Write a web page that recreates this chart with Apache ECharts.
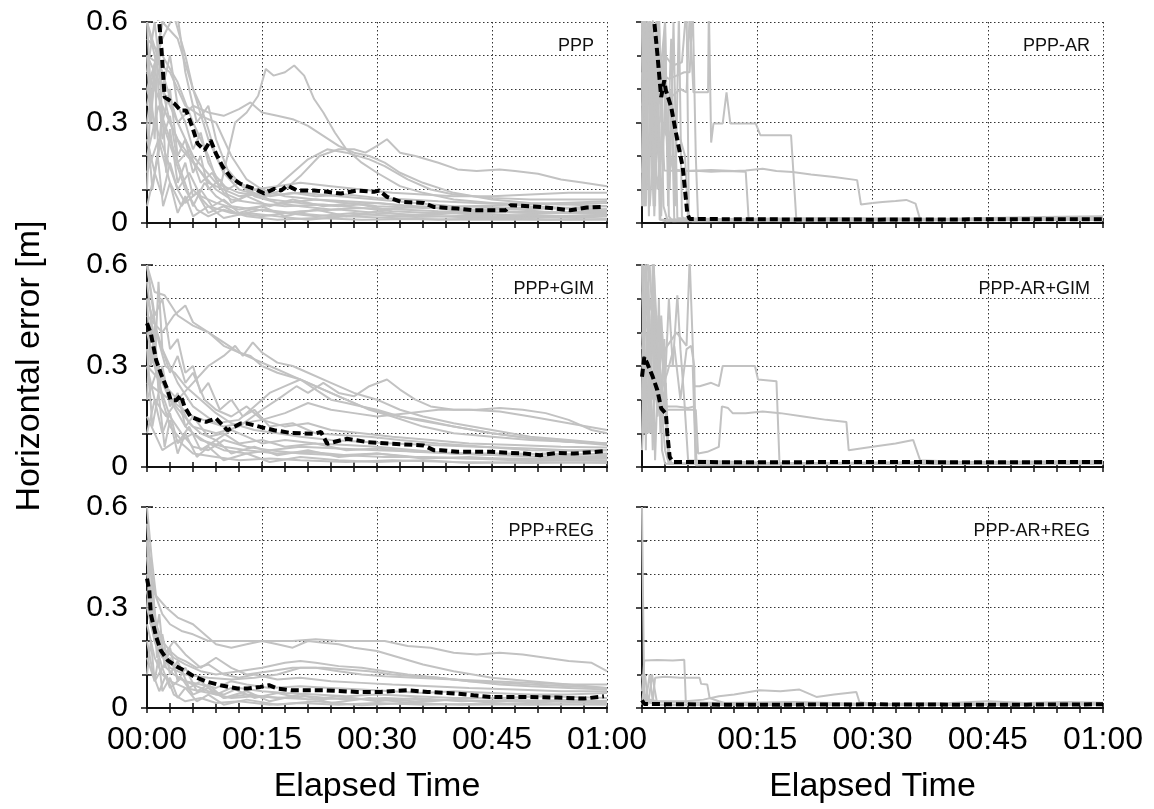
<!DOCTYPE html>
<html>
<head>
<meta charset="utf-8">
<script src="https://cdn.jsdelivr.net/npm/echarts@6/dist/echarts.min.js"></script>
<style>
html,body{margin:0;padding:0;background:#fff;}
#chart{width:1154px;height:809px;}
</style>
</head>
<body>
<div id="chart"></div>
<script>
// ---------- DATA (time in minutes, error in metres) ----------
const panelNames = ['PPP', 'PPP-AR', 'PPP+GIM', 'PPP-AR+GIM', 'PPP+REG', 'PPP-AR+REG'];
const xTickMinutes = [0, 15, 30, 45, 60];
const yTickLabels = ['0', '0.3', '0.6'];

const pppMedian = [[0,0.95],[1.0,0.75],[1.6,0.6],[1.9,0.515],[2.3,0.376],[3.6,0.356],[4.4,0.336],[5.1,0.336],[5.9,0.287],[6.6,0.237],[7.5,0.217],[8.3,0.247],[9.0,0.207],[9.9,0.167],[10.9,0.137],[12.2,0.117],[14.0,0.102],[15.3,0.088],[16.6,0.102],[17.5,0.097],[18.3,0.112],[19.6,0.097],[21.8,0.097],[23.5,0.093],[25.3,0.088],[27.4,0.097],[29.6,0.093],[30.3,0.097],[31.3,0.078],[33.1,0.063],[36.1,0.06],[37.4,0.048],[40.5,0.043],[42.6,0.038],[44.8,0.038],[46.8,0.038],[47.4,0.053],[51.3,0.048],[55.2,0.038],[57.4,0.046],[59.6,0.048]];
const pppGrey = [
 [[0,0.55],[2,0.5],[4,0.42],[6,0.3],[8,0.2],[9.5,0.1],[10.5,0.2],[11.5,0.3],[13,0.33],[14.5,0.38],[15.5,0.46],[16.5,0.44],[18,0.45],[19.2,0.47],[20.5,0.44],[21.8,0.37],[23,0.33],[24.5,0.27],[26,0.22],[28,0.18],[30,0.15],[33,0.11],[36,0.09],[40,0.07],[45,0.06],[50,0.05],[55,0.045],[60,0.04]],
 [[0,0.6],[2,0.45],[4,0.3],[6,0.35],[8,0.33],[10,0.32],[12,0.34],[13.5,0.36],[15,0.33],[17,0.32],[19,0.31],[21,0.29],[23,0.26],[25,0.23],[27,0.21],[29,0.2],[31,0.18],[33,0.15],[36,0.12],[40,0.09],[45,0.07],[50,0.06],[55,0.055],[60,0.05]],
 [[0,0.5],[3,0.35],[6,0.2],[9,0.12],[12,0.09],[15,0.08],[18,0.1],[20,0.14],[22.5,0.2],[25,0.22],[27,0.22],[28.5,0.21],[30,0.23],[31.3,0.25],[33,0.21],[35,0.2],[38,0.18],[40.5,0.16],[43,0.155],[46,0.16],[48,0.155],[51,0.147],[54,0.13],[57,0.12],[60,0.11]],
 [[0,0.45],[4,0.25],[8,0.12],[12,0.08],[16,0.09],[19,0.15],[21,0.19],[23.5,0.22],[26,0.21],[29,0.19],[31,0.17],[34,0.13],[37,0.1],[40,0.085],[45,0.075],[50,0.07],[55,0.07],[60,0.07]],
 [[0,0.3],[2,0.6],[4,0.55],[6,0.4],[8,0.25],[10,0.15],[13,0.1],[16,0.07],[20,0.06],[25,0.05],[30,0.06],[35,0.05],[40,0.04],[45,0.035],[50,0.03],[55,0.03],[60,0.03]],
 [[0,0.2],[1.5,0.35],[3,0.25],[4.5,0.15],[6,0.05],[7.5,0.12],[9,0.08],[11,0.05],[14,0.04],[18,0.03],[22,0.02],[27,0.03],[32,0.02],[38,0.02],[44,0.015],[50,0.02],[56,0.015],[60,0.02]],
 [[0,0.4],[1,0.3],[2.5,0.2],[4,0.1],[5.5,0.15],[7,0.08],[9,0.06],[12,0.04],[15,0.05],[18,0.06],[22,0.07],[26,0.065],[30,0.06],[34,0.05],[38,0.045],[42,0.04],[48,0.04],[54,0.045],[60,0.05]],
 [[0,0.25],[1,0.15],[2,0.3],[3.5,0.2],[5,0.1],[6.5,0.04],[8,0.02],[10,0.04],[13,0.02],[17,0.01],[22,0.015],[28,0.01],[35,0.012],[42,0.01],[50,0.01],[60,0.01]],
 [[0,0.35],[2,0.6],[3.5,0.7],[5,0.45],[6.5,0.3],[8,0.35],[9,0.25],[10.5,0.16],[12,0.12],[14,0.1],[17,0.11],[20,0.12],[24,0.11],[28,0.1],[32,0.09],[36,0.085],[40,0.08],[45,0.08],[50,0.085],[55,0.09],[60,0.09]],
 [[0,0.15],[1.5,0.25],[3,0.12],[4.5,0.05],[6,0.1],[8,0.05],[11,0.03],[15,0.02],[20,0.035],[25,0.04],[30,0.03],[35,0.025],[40,0.03],[46,0.025],[52,0.02],[60,0.025]],
 [[0,0.5],[3,0.45],[5,0.35],[7,0.32],[9,0.3],[11,0.2],[13,0.13],[15,0.1],[18,0.08],[22,0.07],[26,0.06],[30,0.05],[36,0.045],[42,0.05],[48,0.055],[54,0.06],[60,0.065]],
 [[0,0.6],[1,0.5],[2,0.4],[3,0.3],[4.5,0.22],[6,0.18],[7.5,0.14],[9,0.1],[11,0.07],[14,0.06],[18,0.05],[23,0.055],[28,0.045],[33,0.04],[38,0.035],[44,0.03],[50,0.035],[56,0.03],[60,0.03]],
 [[0,0.4],[2,0.55],[3.5,0.62],[5,0.5],[6,0.4],[7,0.35],[8,0.28],[9,0.2],[10,0.15],[12,0.1],[15,0.08],[20,0.09],[25,0.08],[30,0.07],[35,0.06],[40,0.05],[50,0.045],[60,0.04]],
 [[0,0.5],[0.5,0.3],[1,0.45],[1.5,0.2],[2,0.35],[2.5,0.15],[3,0.28],[4,0.12],[5,0.18],[6,0.08],[7,0.1],[8.5,0.05],[10,0.07],[12,0.03],[15,0.05],[18,0.02],[22,0.04],[26,0.02],[30,0.035],[35,0.02],[40,0.03],[45,0.02],[50,0.025],[55,0.02],[60,0.025]],
 [[0,0.1],[0.5,0.4],[1,0.25],[1.5,0.55],[2,0.3],[3,0.4],[4,0.2],[5,0.25],[6,0.15],[7,0.2],[8,0.1],[9.5,0.13],[11,0.06],[13,0.08],[16,0.05],[19,0.07],[23,0.05],[27,0.06],[31,0.04],[36,0.05],[41,0.035],[47,0.045],[53,0.03],[60,0.04]],
 [[0,0.3],[0.7,0.1],[1.4,0.2],[2.1,0.05],[3,0.12],[4,0.03],[5,0.08],[6,0.02],[8,0.05],[10,0.015],[13,0.03],[17,0.02],[21,0.01],[26,0.02],[32,0.015],[38,0.01],[45,0.015],[52,0.01],[60,0.012]],
 [[0,0.6],[0.6,0.35],[1.2,0.5],[2,0.25],[3,0.32],[4,0.18],[5.5,0.22],[7,0.12],[8.5,0.15],[10,0.09],[12,0.07],[14,0.1],[16,0.08],[19,0.09],[22,0.08],[26,0.085],[30,0.075],[34,0.07],[38,0.065],[43,0.06],[48,0.058],[54,0.055],[60,0.06]],
 [[0,0.45],[1,0.6],[2,0.4],[3,0.5],[4,0.35],[5,0.3],[6,0.22],[7,0.27],[8,0.18],[9,0.14],[10.5,0.1],[12,0.12],[14,0.08],[17,0.06],[20,0.05],[24,0.04],[28,0.045],[32,0.035],[37,0.03],[43,0.035],[50,0.03],[60,0.035]],
 [[0,0.05],[1,0.15],[2,0.08],[3,0.18],[4,0.1],[5,0.06],[6.5,0.09],[8,0.03],[10,0.05],[12,0.025],[15,0.04],[19,0.03],[24,0.02],[29,0.025],[35,0.018],[42,0.022],[50,0.015],[60,0.02]]
];

const arMedian = [[0,0.95],[1.0,0.8],[1.6,0.6],[2.0,0.505],[2.26,0.436],[2.5,0.376],[2.9,0.426],[3.1,0.396],[3.8,0.346],[4.6,0.247],[5.3,0.167],[5.9,0.028],[6.2,0.012],[15,0.011],[30,0.01],[45,0.011],[60,0.011]];
const arGrey = [
 [[0,0.2],[0.4,0.65],[0.8,0.1],[1.2,0.55],[1.6,0.02],[2,0.3],[2.4,0.01],[3,0.005],[10,0.008],[20,0.01],[30,0.008],[40,0.01],[50,0.012],[60,0.01]],
 [[0,0.5],[0.5,0.05],[1,0.6],[1.5,0.2],[2.2,0.65],[2.8,0.05],[3.3,0.01],[15,0.01],[30,0.012],[45,0.01],[60,0.015]],
 [[0,0.1],[0.6,0.4],[1.1,0.6],[1.7,0.15],[2.3,0.45],[2.9,0.44],[3.5,0.43],[4.5,0.44],[5.5,0.45],[6.2,0.45],[6.6,0.65],[7,0.2],[7.3,0.01],[20,0.012],[40,0.01],[60,0.012]],
 [[0,0.6],[0.5,0.3],[1,0.62],[2,0.35],[3,0.4],[4,0.38],[5,0.4],[5.8,0.39],[6.2,0.62],[6.7,0.39],[8.6,0.39],[8.7,0.65],[9.0,0.24],[9.3,0.297],[10.5,0.297],[11,0.39],[11.5,0.297],[14.8,0.297],[15.4,0.262],[19.4,0.262],[20.1,0.005],[30,0.008],[45,0.01],[60,0.01]],
 [[0,0.3],[0.8,0.6],[1.5,0.05],[2.2,0.5],[2.9,0.157],[5,0.155],[7,0.156],[9,0.153],[11,0.155],[13.5,0.153],[13.9,0.005],[25,0.01],[40,0.008],[60,0.01]],
 [[0,0.4],[1,0.55],[2,0.1],[3,0.3],[4,0.16],[6,0.155],[9,0.158],[12,0.155],[13.5,0.157],[15.7,0.162],[17.5,0.155],[19.6,0.152],[22,0.145],[25,0.137],[28,0.128],[28.5,0.055],[30,0.06],[31.3,0.063],[33,0.066],[34.4,0.069],[35.6,0.058],[36.2,0.01],[45,0.012],[60,0.015]],
 [[0,0.6],[0.3,0.2],[0.7,0.55],[1.2,0.3],[1.8,0.6],[2.3,0.1],[2.8,0.5],[3.3,0.2],[3.8,0.55],[4.3,0.05],[4.8,0.62],[5.2,0.02],[5.5,0.01],[20,0.01],[40,0.012],[60,0.01]],
 [[0,0.35],[1,0.45],[2,0.42],[3,0.5],[4,0.47],[5.2,0.48],[5.8,0.65],[6.1,0.02],[6.5,0.005],[30,0.01],[60,0.01]],
 [[0,0.15],[0.5,0.35],[1,0.05],[1.6,0.25],[2.2,0.6],[2.6,0.3],[3.2,0.26],[4,0.28],[5,0.25],[5.6,0.2],[6,0.01],[30,0.008],[60,0.01]],
 [[0,0.45],[0.3,0.05],[0.9,0.5],[1.4,0.1],[1.9,0.62],[2.5,0.02],[3,0.4],[3.6,0.1],[4.1,0.6],[4.6,0.015],[10,0.012],[25,0.015],[40,0.013],[52,0.018],[60,0.02]],
 [[0,0.05],[0.2,0.62],[0.5,0.1],[0.8,0.6],[1.1,0.2],[1.4,0.62],[1.7,0.05],[2.0,0.55],[2.3,0.01],[10,0.012],[30,0.01],[60,0.012]],
 [[0,0.62],[0.3,0.05],[0.6,0.5],[0.9,0.02],[1.2,0.45],[1.6,0.1],[2.0,0.62],[2.5,0.3],[3,0.6],[3.4,0.05],[3.8,0.4],[4.2,0.01],[20,0.01],[60,0.013]],
 [[0,0.3],[0.2,0.6],[0.4,0.4],[0.7,0.62],[1,0.35],[1.3,0.58],[1.8,0.25],[2.4,0.45],[3.0,0.6],[3.5,0.02],[4,0.005],[60,0.01]]
];

const gimMedian = [[0,0.427],[0.5,0.397],[1.2,0.317],[1.8,0.278],[2.7,0.228],[3.1,0.198],[3.8,0.198],[4.4,0.213],[4.9,0.179],[5.7,0.149],[6.8,0.139],[7.7,0.134],[9.0,0.144],[10.5,0.109],[12.2,0.129],[13.1,0.129],[14.8,0.119],[16.6,0.109],[18.8,0.101],[21.8,0.099],[22.7,0.104],[23.5,0.069],[26.1,0.084],[28.7,0.074],[31.8,0.069],[36.1,0.064],[37.4,0.05],[38.3,0.05],[40.5,0.045],[44.8,0.045],[49.2,0.04],[51.3,0.035],[53.5,0.042],[55.7,0.04],[59.6,0.047]];
const gimGrey = [
 [[0,0.6],[1,0.52],[2.3,0.51],[4,0.45],[6,0.42],[8,0.4],[10,0.36],[13,0.33],[16,0.3],[19,0.27],[22,0.24],[25,0.21],[28,0.18],[31,0.16],[35,0.14],[40,0.12],[45,0.1],[50,0.085],[55,0.075],[60,0.07]],
 [[0,0.45],[2,0.4],[3.5,0.45],[5,0.48],[6,0.43],[8,0.4],[10,0.37],[12,0.34],[13.5,0.33],[15,0.3],[17,0.28],[20,0.26],[23,0.23],[26,0.2],[29,0.17],[32,0.15],[36,0.12],[40,0.1],[45,0.09],[50,0.08],[55,0.075],[60,0.065]],
 [[0,0.3],[2,0.25],[4,0.2],[6,0.25],[8,0.3],[10,0.33],[11.5,0.36],[12.5,0.33],[13.8,0.37],[15,0.34],[17,0.31],[19,0.3],[21,0.28],[24,0.25],[27,0.22],[30,0.2],[33,0.17],[36,0.15],[40,0.13],[45,0.11],[50,0.09],[55,0.08],[60,0.07]],
 [[0,0.35],[3,0.2],[6,0.12],[9,0.1],[12,0.12],[15,0.17],[17,0.2],[19.5,0.24],[21,0.22],[23,0.25],[25,0.22],[27,0.21],[29,0.24],[31.3,0.26],[33,0.23],[35,0.2],[37,0.18],[40,0.17],[43,0.17],[46,0.175],[49,0.17],[52,0.16],[55,0.14],[58,0.11],[60,0.1]],
 [[0,0.5],[2,0.35],[4,0.25],[6,0.18],[9,0.13],[12,0.14],[14,0.18],[16,0.22],[18,0.24],[20,0.26],[22,0.23],[24,0.2],[26,0.19],[28,0.18],[30,0.17],[33,0.15],[36,0.14],[40,0.12],[45,0.1],[50,0.085],[55,0.075],[60,0.07]],
 [[0,0.25],[3,0.2],[6,0.15],[10,0.12],[15,0.14],[18,0.16],[21,0.19],[24,0.17],[27,0.16],[30,0.15],[34,0.16],[38,0.17],[42,0.17],[46,0.165],[50,0.15],[55,0.13],[60,0.11]],
 [[0,0.2],[1.5,0.3],[3,0.2],[5,0.12],[7,0.08],[10,0.06],[13,0.05],[17,0.04],[21,0.045],[26,0.035],[31,0.03],[36,0.03],[42,0.025],[48,0.02],[54,0.02],[60,0.02]],
 [[0,0.4],[1.5,0.25],[3,0.15],[4.5,0.1],[6,0.06],[8,0.05],[10,0.08],[13,0.06],[16,0.05],[20,0.06],[25,0.055],[30,0.05],[36,0.045],[42,0.04],[48,0.04],[54,0.035],[60,0.04]],
 [[0,0.15],[1,0.1],[2,0.05],[4,0.08],[6,0.04],[9,0.03],[12,0.02],[16,0.025],[20,0.02],[26,0.015],[32,0.02],[40,0.015],[50,0.012],[60,0.015]],
 [[0,0.6],[1.2,0.4],[2.4,0.3],[3.6,0.28],[5,0.24],[7,0.2],[9,0.16],[11,0.13],[14,0.11],[17,0.1],[20,0.09],[24,0.08],[28,0.075],[32,0.07],[37,0.065],[43,0.06],[50,0.055],[55,0.05],[60,0.05]],
 [[0,0.3],[1,0.2],[2.5,0.15],[4,0.2],[5.5,0.13],[7,0.1],[9,0.08],[11,0.11],[13,0.09],[15,0.07],[18,0.08],[22,0.07],[26,0.065],[30,0.06],[35,0.05],[40,0.04],[46,0.035],[52,0.03],[60,0.03]],
 [[0,0.55],[1,0.35],[2,0.2],[3,0.12],[4.5,0.08],[6,0.1],[8,0.07],[10,0.05],[13,0.04],[16,0.05],[20,0.04],[25,0.035],[30,0.04],[35,0.03],[42,0.025],[50,0.025],[60,0.028]],
 [[0,0.5],[0.5,0.3],[1,0.42],[1.5,0.22],[2,0.3],[3,0.18],[4,0.22],[5,0.12],[6,0.15],[8,0.09],[10,0.1],[12,0.07],[15,0.08],[18,0.06],[22,0.07],[26,0.05],[30,0.055],[35,0.045],[40,0.04],[46,0.035],[52,0.04],[60,0.035]],
 [[0,0.2],[0.5,0.45],[1,0.3],[1.5,0.55],[2,0.35],[3,0.28],[4,0.33],[5,0.25],[6,0.28],[7.5,0.2],[9,0.17],[11,0.15],[13,0.18],[15,0.14],[18,0.12],[21,0.13],[24,0.11],[28,0.1],[32,0.09],[37,0.08],[42,0.07],[48,0.065],[54,0.06],[60,0.058]],
 [[0,0.35],[0.7,0.12],[1.5,0.22],[2.3,0.06],[3,0.14],[4,0.04],[5,0.1],[6.5,0.03],[8,0.06],[10,0.02],[13,0.04],[16,0.015],[20,0.03],[25,0.02],[30,0.015],[36,0.02],[42,0.012],[50,0.015],[60,0.012]],
 [[0,0.6],[1,0.45],[2,0.5],[3,0.35],[4,0.38],[5,0.28],[6,0.3],[7,0.22],[8,0.25],[9.5,0.17],[11,0.2],[12.5,0.15],[14,0.17],[16,0.12],[19,0.13],[22,0.1],[25,0.095],[29,0.09],[33,0.08],[38,0.07],[44,0.06],[50,0.05],[56,0.048],[60,0.05]],
 [[0,0.1],[1,0.2],[2,0.1],[3,0.16],[4,0.07],[5.5,0.12],[7,0.05],[9,0.08],[11,0.04],[14,0.06],[17,0.035],[21,0.05],[25,0.03],[30,0.04],[36,0.025],[42,0.03],[50,0.02],[60,0.025]]
];

const arGimMedian = [[0,0.268],[0.3,0.327],[0.7,0.307],[1.4,0.268],[2.0,0.228],[2.5,0.174],[3.1,0.159],[3.3,0.099],[3.6,0.03],[4.0,0.015],[15,0.014],[30,0.015],[45,0.014],[60,0.015]];
const arGimGrey = [
 [[0,0.1],[0.5,0.6],[1,0.3],[1.5,0.5],[2,0.2],[2.5,0.45],[3,0.25],[3.5,0.5],[4,0.3],[4.6,0.51],[5,0.35],[5.5,0.2],[6,0.02],[20,0.01],[40,0.012],[60,0.01]],
 [[0,0.5],[0.7,0.65],[1.3,0.2],[2,0.4],[2.8,0.3],[4,0.3],[5.5,0.3],[6.6,0.3],[7,0.005],[30,0.01],[60,0.012]],
 [[0,0.3],[1,0.6],[2,0.15],[3,0.35],[4.5,0.4],[5.8,0.36],[6.2,0.62],[6.8,0.24],[7.5,0.24],[9,0.25],[10,0.24],[10.5,0.3],[14.7,0.3],[15.1,0.26],[17.5,0.255],[17.9,0.01],[30,0.012],[60,0.01]],
 [[0,0.2],[0.6,0.55],[1.2,0.1],[2,0.3],[3,0.17],[4.5,0.17],[6,0.17],[7,0.17],[7.3,0.04],[8.5,0.045],[10,0.06],[10.4,0.18],[11.2,0.175],[11.8,0.16],[13.5,0.16],[15.7,0.165],[18,0.16],[21,0.15],[24,0.14],[26.6,0.134],[26.9,0.05],[30,0.06],[33,0.07],[35.3,0.08],[36.2,0.02],[45,0.012],[60,0.015]],
 [[0,0.4],[0.8,0.1],[1.5,0.6],[2.2,0.3],[3,0.18],[4.5,0.18],[6,0.175],[6.8,0.18],[7.1,0.01],[30,0.01],[60,0.012]],
 [[0,0.6],[0.4,0.2],[0.9,0.5],[1.4,0.05],[1.9,0.45],[2.4,0.1],[2.9,0.38],[3.4,0.02],[4,0.01],[25,0.012],[60,0.01]],
 [[0,0.05],[0.5,0.3],[1,0.1],[1.5,0.65],[2,0.15],[2.6,0.4],[3.2,0.1],[3.8,0.01],[30,0.01],[60,0.01]],
 [[0,0.45],[0.5,0.45],[1,0.48],[1.5,0.45],[2,0.3],[2.5,0.2],[3,0.05],[3.5,0.01],[60,0.01]],
 [[0,0.35],[1.2,0.5],[2.1,0.2],[3.3,0.28],[4.2,0.36],[5,0.2],[5.8,0.35],[6.4,0.36],[6.8,0.3],[7.0,0.01],[40,0.015],[60,0.018]],
 [[0,0.2],[0.2,0.6],[0.5,0.05],[0.8,0.55],[1.1,0.1],[1.4,0.62],[1.8,0.2],[2.2,0.5],[2.6,0.05],[3,0.01],[30,0.012],[60,0.01]],
 [[0,0.62],[0.3,0.1],[0.6,0.4],[1,0.15],[1.3,0.5],[1.7,0.02],[2.2,0.35],[2.6,0.12],[3.1,0.25],[3.5,0.01],[60,0.012]]
];

const regMedian = [[0,0.386],[0.3,0.351],[0.5,0.28],[1.2,0.212],[1.8,0.172],[2.7,0.142],[4.0,0.122],[4.9,0.112],[6.2,0.093],[7.9,0.078],[9.6,0.068],[11.8,0.058],[13.1,0.058],[14.8,0.063],[15.9,0.068],[17.0,0.058],[18.8,0.053],[23.1,0.053],[27.4,0.048],[30.5,0.048],[34.0,0.053],[36.6,0.048],[40.5,0.043],[42.6,0.038],[44.8,0.033],[49.2,0.033],[53.5,0.031],[57,0.028],[59.6,0.035]];
const regGrey = [
 [[0,0.6],[0.6,0.45],[1.2,0.33],[2,0.28],[3,0.25],[4.5,0.23],[6,0.22],[8,0.2],[10,0.2],[13,0.2],[16,0.2],[19,0.2],[22,0.205],[25,0.2],[28,0.2],[31,0.2],[34,0.185],[37,0.18],[40,0.165],[43,0.16],[46,0.165],[49,0.16],[52,0.15],[55,0.14],[58,0.135],[60,0.11]],
 [[0,0.5],[1,0.34],[2.5,0.3],[4,0.27],[6,0.25],[7.5,0.22],[9,0.19],[11,0.18],[13,0.19],[15,0.2],[17,0.19],[19,0.18],[21,0.2],[23,0.195],[25,0.19],[27,0.18],[30,0.17],[33,0.15],[36,0.13],[40,0.11],[45,0.09],[50,0.08],[55,0.07],[60,0.06]],
 [[0,0.4],[1,0.25],[2,0.18],[3.5,0.15],[5,0.13],[7,0.11],[9,0.1],[12,0.11],[15,0.12],[18,0.135],[20,0.14],[22,0.135],[25,0.125],[28,0.12],[31,0.11],[34,0.1],[38,0.09],[42,0.08],[46,0.07],[50,0.065],[55,0.06],[60,0.055]],
 [[0,0.3],[1,0.2],[2,0.15],[3.5,0.2],[5,0.16],[7,0.12],[9,0.15],[11,0.12],[13,0.1],[16,0.11],[19,0.12],[22,0.12],[25,0.11],[28,0.1],[31,0.095],[35,0.09],[40,0.085],[45,0.08],[50,0.075],[55,0.07],[60,0.07]],
 [[0,0.25],[1,0.15],[2,0.1],[3,0.08],[5,0.06],[7,0.05],[9,0.04],[11,0.03],[14,0.035],[18,0.03],[22,0.025],[26,0.03],[30,0.025],[35,0.02],[40,0.025],[45,0.02],[50,0.02],[55,0.025],[60,0.02]],
 [[0,0.35],[1,0.2],[2,0.12],[3,0.15],[4,0.09],[6,0.07],[8,0.05],[10,0.04],[12,0.06],[15,0.05],[18,0.045],[22,0.04],[26,0.035],[30,0.04],[35,0.035],[40,0.03],[46,0.03],[52,0.035],[60,0.03]],
 [[0,0.2],[0.8,0.1],[1.6,0.05],[2.5,0.1],[3.5,0.04],[5,0.02],[7,0.03],[9,0.015],[12,0.02],[16,0.01],[20,0.015],[25,0.01],[30,0.015],[36,0.01],[42,0.012],[50,0.01],[60,0.012]],
 [[0,0.45],[0.7,0.3],[1.5,0.2],[2.5,0.12],[3.5,0.1],[5,0.08],[7,0.07],[9,0.06],[11,0.08],[13,0.07],[16,0.06],[20,0.065],[24,0.06],[28,0.055],[32,0.05],[36,0.045],[40,0.05],[45,0.045],[50,0.04],[55,0.04],[60,0.045]],
 [[0,0.15],[1,0.08],[2,0.12],[3,0.06],[4.5,0.09],[6,0.04],[8,0.06],[10,0.03],[13,0.04],[17,0.03],[21,0.035],[26,0.025],[31,0.03],[37,0.025],[44,0.02],[52,0.02],[60,0.022]],
 [[0,0.35],[1.5,0.2],[3,0.12],[5,0.1],[8,0.09],[11,0.085],[14,0.09],[17,0.1],[20,0.12],[23,0.12],[26,0.115],[29,0.11],[32,0.1],[35,0.095],[38,0.09],[42,0.08],[46,0.075],[50,0.07],[55,0.065],[60,0.06]],
 [[0,0.5],[0.4,0.25],[0.8,0.35],[1.3,0.15],[2,0.22],[3,0.1],[4,0.14],[5.5,0.06],[7,0.08],[9,0.04],[11,0.06],[14,0.03],[17,0.045],[21,0.025],[25,0.035],[30,0.02],[35,0.03],[41,0.02],[48,0.025],[55,0.018],[60,0.02]],
 [[0,0.3],[0.5,0.45],[1,0.2],[1.6,0.28],[2.3,0.12],[3,0.18],[4,0.08],[5,0.12],[6.5,0.05],[8,0.07],[10,0.03],[13,0.05],[16,0.02],[20,0.04],[24,0.015],[29,0.03],[34,0.015],[40,0.025],[47,0.012],[54,0.02],[60,0.015]],
 [[0,0.55],[0.6,0.38],[1.2,0.25],[2,0.2],[3,0.17],[4,0.15],[5,0.14],[6.5,0.12],[8,0.13],[10,0.1],[12,0.09],[14,0.1],[17,0.085],[20,0.09],[24,0.08],[28,0.075],[32,0.07],[37,0.065],[42,0.06],[48,0.055],[54,0.05],[60,0.05]],
 [[0,0.1],[0.5,0.2],[1,0.08],[1.5,0.15],[2,0.05],[3,0.09],[4,0.03],[5,0.06],[6.5,0.02],[8,0.04],[10,0.01],[13,0.025],[17,0.01],[22,0.02],[28,0.008],[34,0.015],[41,0.01],[50,0.012],[60,0.01]]
];

const arRegMedian = [[0,0.023],[0.3,0.012],[10,0.01],[20,0.01],[30,0.011],[40,0.01],[50,0.01],[60,0.011]];
const arRegGrey = [
 [[0,0.6],[0.15,0.3],[0.3,0.02],[2,0.01],[20,0.012],[40,0.01],[60,0.012]],
 [[0,0.05],[0.3,0.142],[2,0.143],[4,0.142],[5.5,0.144],[5.7,0.02],[7,0.01],[30,0.01],[60,0.012]],
 [[0,0.1],[0.5,0.02],[1.0,0.1],[1.4,0.02],[1.7,0.09],[3,0.093],[5,0.09],[7.5,0.09],[7.7,0.072],[8.5,0.07],[8.8,0.03],[10,0.02],[11.5,0.01],[60,0.012]],
 [[0,0.03],[2,0.02],[5.7,0.02],[8,0.025],[10,0.035],[12,0.04],[15.3,0.053],[18,0.05],[20.5,0.055],[22.7,0.033],[25,0.04],[27.9,0.048],[28.3,0.018],[30,0.012],[40,0.01],[50,0.014],[60,0.015]],
 [[0,0.01],[0.4,0.1],[0.8,0.01],[1.3,0.1],[2,0.01],[60,0.01]],
 [[0,0.02],[10,0.015],[20,0.018],[30,0.012],[40,0.015],[45,0.02],[50,0.015],[55,0.018],[60,0.016]]
];

const panelGrey = [pppGrey, arGrey, gimGrey, arGimGrey, regGrey, arRegGrey];
const panelMedian = [pppMedian, arMedian, gimMedian, arGimMedian, regMedian, arRegMedian];

// ---------- LAYOUT ----------
const colLeft = [147, 642];
const colWidth = [460, 461];
const rowTop = [22, 265, 507];
const rowHeight = [201, 202, 201];

const FONT = "'Liberation Sans', Arial, Helvetica, sans-serif";
const dotted = {color: '#333', width: 1, type: [1.5, 2.5]};
const frame = {show: true, lineStyle: {color: '#111', width: 2}};

function fmtTime(m) {
  const h = Math.floor(m / 60), mm = Math.round(m % 60);
  return String(h).padStart(2, '0') + ':' + String(mm).padStart(2, '0');
}

const grids = [], xAxes = [], yAxes = [], series = [], titles = [];
for (let p = 0; p < 6; p++) {
  const r = Math.floor(p / 2), c = p % 2;
  grids.push({left: colLeft[c], top: rowTop[r], width: colWidth[c], height: rowHeight[r], containLabel: false});
  const bottomRow = r === 2;
  xAxes.push({
    gridIndex: p, type: 'value', position: 'bottom', min: 0, max: 60, interval: 15,
    axisLine: frame,
    axisTick: {show: true, inside: true, length: 5, lineStyle: {color: '#111', width: 1.5}},
    minorTick: {show: true, splitNumber: 5, length: 5, lineStyle: {color: '#111', width: 1.5}},
    splitLine: {show: true, lineStyle: dotted},
    axisLabel: {
      show: bottomRow, showMinLabel: c === 0, margin: 16,
      fontSize: 32, color: '#000', fontFamily: FONT,
      formatter: v => fmtTime(v)
    },
    name: bottomRow ? 'Elapsed Time' : '', nameLocation: 'middle', nameGap: 62,
    nameTextStyle: {fontSize: 34, color: '#000', fontFamily: FONT}
  });
  xAxes.push({
    gridIndex: p, type: 'value', position: 'top', min: 0, max: 60, interval: 15,
    axisLine: frame,
    axisTick: {show: true, inside: true, length: 5, lineStyle: {color: '#111', width: 1.5}},
    minorTick: {show: true, splitNumber: 5, length: 5, lineStyle: {color: '#111', width: 1.5}},
    splitLine: {show: false}, axisLabel: {show: false}
  });
  yAxes.push({
    gridIndex: p, type: 'value', position: 'left', min: 0, max: 0.6, interval: 0.3,
    axisLine: frame,
    axisTick: {show: true, inside: true, length: 6, lineStyle: {color: '#111', width: 1.5}},
    minorTick: {show: true, splitNumber: 3, length: 5, lineStyle: {color: '#111', width: 1.5}},
    splitLine: {show: true, lineStyle: dotted},
    minorSplitLine: {show: true, lineStyle: dotted},
    axisLabel: {
      show: c === 0, margin: 19, fontSize: 30, color: '#000', fontFamily: FONT,
      formatter: v => yTickLabels[Math.round(v / 0.3)]
    },
    name: (p === 2) ? 'Horizontal error [m]' : '', nameLocation: 'middle', nameGap: 100, nameRotate: 90,
    nameTextStyle: {fontSize: 34, color: '#000', fontFamily: FONT}
  });
  yAxes.push({
    gridIndex: p, type: 'value', position: 'right', min: 0, max: 0.6, interval: 0.3,
    axisLine: frame,
    axisTick: {show: true, inside: true, length: 6, lineStyle: {color: '#111', width: 1.5}},
    minorTick: {show: true, splitNumber: 3, length: 5, lineStyle: {color: '#111', width: 1.5}},
    splitLine: {show: false}, axisLabel: {show: false}
  });
  panelGrey[p].forEach(d => series.push({
    type: 'line', xAxisIndex: 2 * p, yAxisIndex: 2 * p, data: d, showSymbol: false,
    lineStyle: {color: '#c2c2c2', width: 2}, silent: true, clip: true, z: 2
  }));
  series.push({
    type: 'line', xAxisIndex: 2 * p, yAxisIndex: 2 * p, data: panelMedian[p], showSymbol: false,
    lineStyle: {color: '#000', width: 4, type: [8, 4]}, silent: true, clip: true, z: 3
  });
  titles.push({
    text: panelNames[p], right: 1154 - (colLeft[c] + colWidth[c]) + 8, top: rowTop[r] + 10,
    textStyle: {fontSize: 18, fontWeight: 'normal', color: '#111', fontFamily: FONT}
  });
}

const chart = echarts.init(document.getElementById('chart'), null, {renderer: 'canvas'});
chart.setOption({
  animation: false,
  backgroundColor: '#fff',
  title: titles,
  grid: grids,
  xAxis: xAxes,
  yAxis: yAxes,
  series: series
});
</script>
</body>
</html>
